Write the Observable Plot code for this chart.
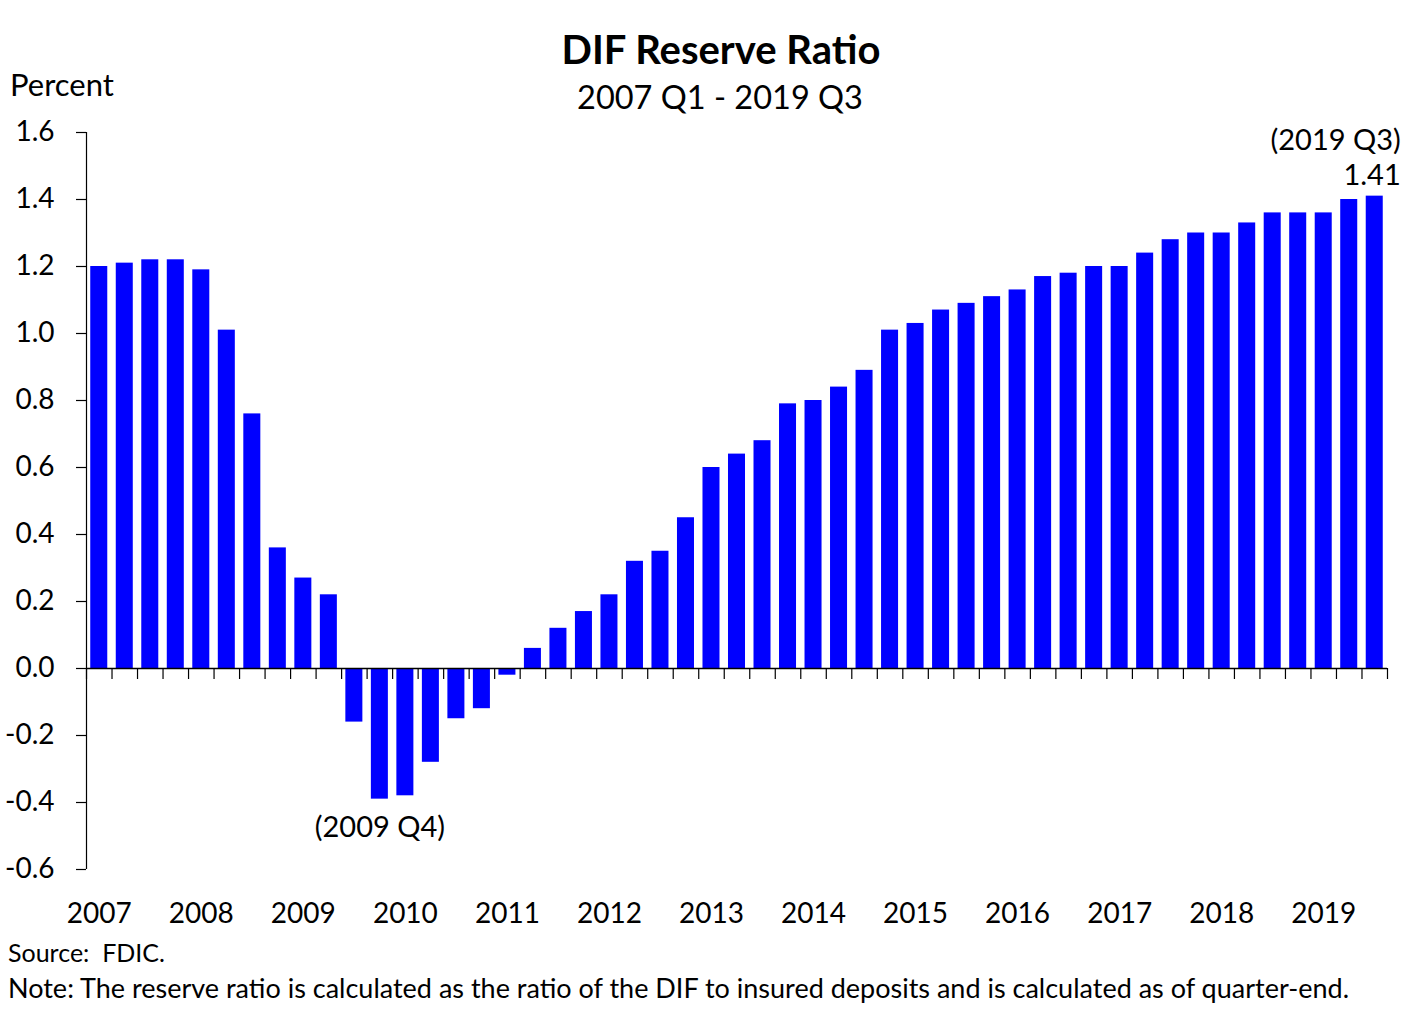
<!DOCTYPE html>
<html><head><meta charset="utf-8">
<script src="https://cdn.jsdelivr.net/npm/d3@7"></script>
<script src="https://cdn.jsdelivr.net/npm/@observablehq/plot@0.6"></script>
<style>
body{margin:0;background:#fff;font-family:Lato,"Open Sans",sans-serif;}
#wrap{position:relative;width:1420px;height:1029px;overflow:hidden;}
.t{position:absolute;white-space:nowrap;color:#000;line-height:1;}
#chart{position:absolute;left:0;top:0;}
</style></head><body>
<div id="wrap">
<div id="chart"></div>
<div class="t" style="left:0;width:1442px;text-align:center;top:29px;font-size:40px;font-weight:bold;">DIF Reserve Ratio</div>
<div class="t" style="left:0;width:1440px;text-align:center;top:81px;font-size:32.5px;">2007 Q1 - 2019 Q3</div>
<div class="t" style="left:10px;top:69px;font-size:31px;">Percent</div>
<div class="t" style="left:8px;top:940px;font-size:25px;">Source:&nbsp; FDIC.</div>
<div class="t" style="left:8px;top:974px;font-size:27px;">Note: The reserve ratio is calculated as the ratio of the DIF to insured deposits and is calculated as of quarter-end.</div>
</div>
<script>
const years = [2007, 2008, 2009, 2010, 2011, 2012, 2013, 2014, 2015, 2016, 2017, 2018, 2019];
const quarterNames = ["Q1", "Q2", "Q3", "Q4"];
const ratio = [
  1.20, 1.21, 1.22, 1.22,
  1.19, 1.01, 0.76, 0.36,
  0.27, 0.22, -0.16, -0.39,
  -0.38, -0.28, -0.15, -0.12,
  -0.02, 0.06, 0.12, 0.17,
  0.22, 0.32, 0.35, 0.45,
  0.60, 0.64, 0.68, 0.79,
  0.80, 0.84, 0.89, 1.01,
  1.03, 1.07, 1.09, 1.11,
  1.13, 1.17, 1.18, 1.20,
  1.20, 1.24, 1.28, 1.30,
  1.30, 1.33, 1.36, 1.36,
  1.36, 1.40, 1.41
];
const yTicks = [-0.6, -0.4, -0.2, 0.0, 0.2, 0.4, 0.6, 0.8, 1.0, 1.2, 1.4, 1.6];
const annotations = [
  {quarter: "2019 Q3", label: "(2019 Q3)\n1.41"},
  {quarter: "2009 Q4", label: "(2009 Q4)"}
];

const quarters = [];
years.forEach(y => quarterNames.forEach(q => quarters.push(`${y} ${q}`)));
quarters.length = ratio.length;
const data = quarters.map((q, i) => ({quarter: q, value: ratio[i]}));
const valueOf = q => data.find(d => d.quarter === q).value;
const yearStarts = quarters.filter(q => q.endsWith("Q1"));

const W = 1420, H = 1029, mL = 86, mR = 33, mT = 132, mB = 160;
const step = (W - mL - mR) / quarters.length;

const chart = Plot.plot({
  width: W, height: H,
  marginLeft: mL, marginRight: mR, marginTop: mT, marginBottom: mB,
  style: {fontFamily: "Lato, 'Open Sans', sans-serif", fontSize: "28px", color: "#000", background: "transparent"},
  x: {type: "band", domain: quarters, paddingInner: 0.333, paddingOuter: 0.1667, round: false},
  y: {domain: [yTicks[0], yTicks[yTicks.length - 1]]},
  marks: [
    Plot.barY(data, {x: "quarter", y: "value", fill: "#0000FF"}),
    Plot.ruleY([0], {stroke: "#000", strokeWidth: 1.4}),
    Plot.ruleX(quarters, {x: d => d, y1: 0, y2: 0, insetTop: 11, dx: -step / 2, stroke: "#000", strokeWidth: 1.2}),
    Plot.ruleX([quarters[quarters.length - 1]], {x: d => d, y1: 0, y2: 0, insetTop: 11, dx: step / 2, stroke: "#000", strokeWidth: 1.2}),
    Plot.ruleX([quarters[0]], {x: d => d, y1: yTicks[0], y2: yTicks[yTicks.length - 1], dx: -step / 2, stroke: "#000", strokeWidth: 1.2}),
    Plot.axisY({ticks: yTicks, tickFormat: d => d.toFixed(1), tickSize: 10, tickPadding: 22, label: null, fontSize: 28, strokeWidth: 1.2}),
    Plot.axisX({ticks: yearStarts, tickFormat: q => q.slice(0, 4), tickSize: 0, tickPadding: 34, label: null, fontSize: 28}),
    Plot.text([annotations[0]], {x: "quarter", y: d => valueOf(d.quarter), text: "label", textAnchor: "end", lineAnchor: "bottom", dx: 26, dy: -11, lineHeight: 1.2, fontSize: 29, fill: "#000"}),
    Plot.text([annotations[1]], {x: "quarter", y: d => valueOf(d.quarter), text: "label", textAnchor: "middle", lineAnchor: "top", dy: 17, fontSize: 29, fill: "#000"})
  ]
});
document.getElementById("chart").appendChild(chart);
</script>
</body></html>
